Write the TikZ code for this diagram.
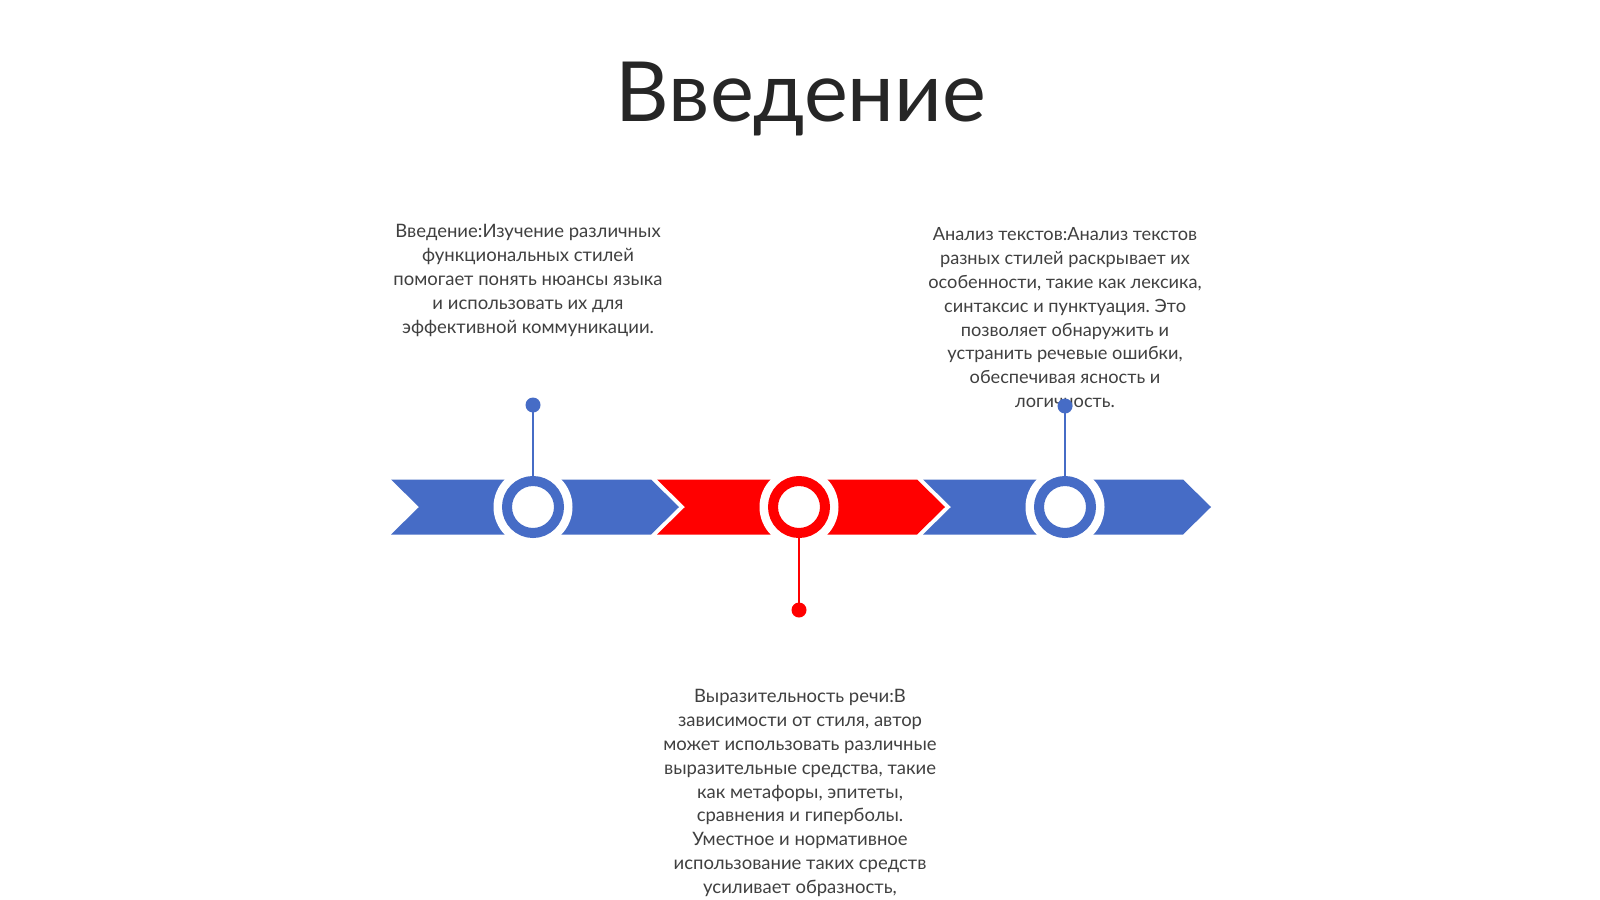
\documentclass[tikz,border=0pt]{standalone}
\usepackage{fontspec}
\setmainfont{Lato}
\frenchspacing
\definecolor{tlblue}{RGB}{70,108,198}
\definecolor{tlred}{RGB}{255,0,0}
\definecolor{titlegray}{RGB}{38,38,38}
\definecolor{bodygray}{RGB}{64,64,64}
\begin{document}
\begin{tikzpicture}[x=1pt,y=-1pt,
  bodytext/.style={inner sep=0pt, align=center, text=bodygray, anchor=north,
    font=\fontsize{18.5}{23.8}\selectfont},
  stem/.style={line width=2pt},
  dotnode/.style={circle, inner sep=0pt, minimum size=15pt},
  gapdisk/.style={circle, fill=white, inner sep=0pt, minimum size=79pt},
]
\useasboundingbox (0,0) rectangle (1600,899);
\fill[white] (0,0) rectangle (1600,899);

% title
\node[font=\fontsize{83}{95}\selectfont, text=titlegray, anchor=base] (title) at (801,121) {Введение};

% chevrons
\foreach \L/\c in {391/tlblue, 657/tlred, 923/tlblue}{
  \fill[\c] (\L,479.5) -- ++(260,0) -- ++(28,27.5) -- ++(-28,27.5) -- ++(-260,0) -- ++(28,-27.5) -- cycle;
}

% texts
\node[bodytext] (t1) at (528,224.5) {Введение:Изучение различных\\функциональных стилей\\помогает понять нюансы языка\\и использовать их для\\эффективной коммуникации.};
\node[bodytext, font=\fontsize{18.2}{23.8}\selectfont] (t2) at (1065,227.7) {Анализ текстов:Анализ текстов\\разных стилей раскрывает их\\особенности, такие как лексика,\\синтаксис и пунктуация. Это\\позволяет обнаружить и\\устранить речевые ошибки,\\обеспечивая ясность и\\логичность.};
\node[bodytext] (t3) at (800,689.5) {Выразительность речи:В\\зависимости от стиля, автор\\может использовать различные\\выразительные средства, такие\\как метафоры, эпитеты,\\сравнения и гиперболы.\\Уместное и нормативное\\использование таких средств\\усиливает образность,};

% circles
\foreach \n/\x/\c in {c1/533/tlblue, c2/799/tlred, c3/1065/tlblue}{
  \node[gapdisk] (g\n) at (\x,507) {};
  \node[circle, draw=\c, line width=10pt, fill=white, inner sep=0pt, minimum size=52pt] (\n) at (\x,507) {};
}

% stems and dots
\node[dotnode, fill=tlblue] (d1) at (533,405) {};
\node[dotnode, fill=tlred] (d2) at (799,610) {};
\node[dotnode, fill=tlblue] (d3) at (1065,406) {};
\draw[stem, tlblue] (d1.center) -- (c1.north);
\draw[stem, tlred] (c2.south) -- (d2.center);
\draw[stem, tlblue] (d3.center) -- (c3.north);
\end{tikzpicture}
\end{document}
